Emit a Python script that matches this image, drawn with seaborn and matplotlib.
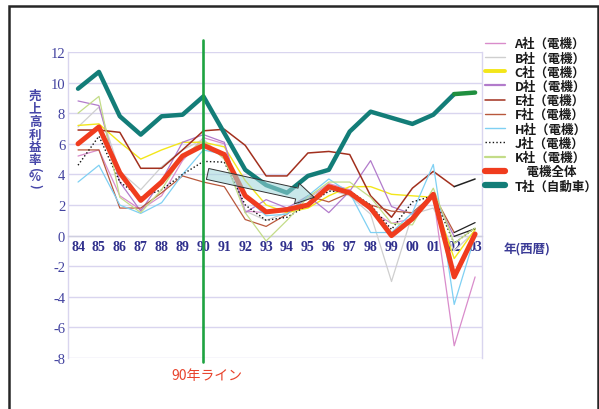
import numpy as np
import pandas as pd
import matplotlib
matplotlib.use("Agg")
import matplotlib.pyplot as plt
import seaborn as sns
from matplotlib.patches import Rectangle

# ---- data: operating profit margin (%) by fiscal year ----
years = ["84", "85", "86", "87", "88", "89", "90", "91", "92", "93",
         "94", "95", "96", "97", "98", "99", "00", "01", "02", "03"]

a_co = [5.2, 5.6, 2.6, 1.7, 2.6, 4.9, 6.4, 6.0, 1.6, 1.5,
        1.6, 2.4, 3.4, 3.0, 1.6, 0.8, 1.1, 2.6, -7.2, -2.7]
b_co = [7.1, 8.4, 4.2, 3.0, 4.5, 5.6, 6.3, 5.0, 1.6, 1.0,
        1.5, 2.6, 3.0, 2.6, 1.4, -3.0, 1.4, 1.8, -1.0, 0.3]
c_co = [7.2, 7.3, 6.1, 5.0, 5.6, 6.1, 6.1, 5.8, 3.6, 2.0,
        1.5, 1.8, 2.6, 3.2, 3.2, 2.7, 2.6, 2.5, -1.5, 0.4]
d_co = [8.8, 8.5, 3.5, 1.6, 3.6, 6.1, 6.6, 6.1, 1.5, 2.35,
        1.8, 2.6, 1.5, 2.9, 4.9, 1.9, 1.4, 2.6, -0.05, 0.45]
e_co = [6.9, 6.9, 6.75, 4.4, 4.4, 5.6, 6.85, 6.95, 5.9, 3.9,
        3.9, 5.4, 5.5, 5.3, 2.6, 1.2, 3.1, 4.2, 3.2, 3.7]
f_co = [5.6, 5.6, 1.8, 1.8, 2.8, 3.9, 3.5, 3.2, 1.05, 0.6,
        1.4, 2.6, 2.2, 2.8, 2.0, 1.6, 1.5, 2.7, 0.2, 0.85]
h_co = [3.5, 4.6, 2.0, 1.45, 2.15, 4.0, 5.6, 5.3, 2.5, 1.3,
        1.4, 2.6, 3.7, 2.8, 0.2, 0.2, 1.5, 4.65, -4.5, 0.0]
j_co = [4.6, 6.5, 3.5, 2.5, 3.0, 4.0, 4.85, 4.8, 2.0, 1.0,
        1.2, 2.0, 2.9, 2.9, 2.0, 0.4, 2.2, 2.6, -0.5, 0.5]
k_co = [8.0, 9.1, 2.5, 1.5, 3.0, 5.2, 6.2, 5.0, 1.5, -0.35,
        1.0, 2.5, 3.5, 3.5, 2.5, 0.8, 0.7, 3.1, -0.5, 0.5]
elec_total = [6.0, 7.1, 4.1, 2.3, 3.5, 5.2, 5.9, 5.3, 2.6, 1.55,
              1.7, 2.0, 3.2, 2.8, 1.8, 0.0, 1.1, 2.7, -2.7, 0.1]
t_auto = [9.6, 10.7, 7.8, 6.6, 7.8, 7.9, 9.1, 6.7, 4.3, 3.3,
          2.8, 3.9, 4.3, 6.8, 8.1, 7.7, 7.3, 7.9, 9.25, 9.35]

y_ticks = [-8, -6, -4, -2, 0, 2, 4, 6, 8, 10, 12]
marker_year = "90"

# label, values, colour, line width, dash, legend width, colour of last segment
series = [
    ("A社（電機）", a_co, "#d98ccb", 0.9, "-", 1.0, None),
    ("B社（電機）", b_co, "#cfcfcf", 0.9, "-", 1.0, None),
    ("C社（電機）", c_co, "#f3e61a", 1.0, "-", 2.8, None),
    ("D社（電機）", d_co, "#b27bcb", 0.9, "-", 1.6, "#222222"),
    ("E社（電機）", e_co, "#a2301e", 1.1, "-", 1.1, "#222222"),
    ("F社（電機）", f_co, "#b8583c", 0.9, "-", 1.0, "#222222"),
    ("H社（電機）", h_co, "#7fd0f3", 0.9, "-", 1.0, None),
    ("J社（電機）", j_co, "#111111", 1.0, (0, (1, 1.6)), 1.0, None),
    ("K社（電機）", k_co, "#c3dc88", 0.9, "-", 1.6, None),
    ("\u3000電機全体", elec_total, "#f03c1e", 3.6, "-", 4.5, None),
    ("T社（自動車）", t_auto, "#137d78", 3.2, "-", 4.5, "#1f8f3f"),
]

sns.set_style("white")
plt.rcParams["font.family"] = ["Noto Sans CJK JP", "DejaVu Sans"]
plt.rcParams["axes.unicode_minus"] = False

W, H = 599, 410
fig = plt.figure(figsize=(W / 100, H / 100), dpi=100)
ax = fig.add_axes([68 / W, 51 / H, 414 / W, 306 / H])

pos = np.arange(len(years))
for label, vals, color, lw, ls, _, tail in series:
    df = pd.DataFrame({"pos": pos, "value": vals})
    body = df if tail is None else df.iloc[:-1]
    sns.lineplot(data=body, x="pos", y="value", ax=ax, color=color, lw=lw,
                 linestyle=ls, label=label, sort=False, zorder=3)
    if tail is not None:
        sns.lineplot(data=df.iloc[-2:], x="pos", y="value", ax=ax, color=tail,
                     lw=lw, linestyle=ls, legend=False, sort=False, zorder=3)

# axes, grid and ticks
grid_c = "#d9d5ef"
ax.set_xlim(-0.48, 19.33)
ax.set_ylim(-8, 12)
ax.set_xlabel("")
ax.set_ylabel("")
ax.grid(axis="y", color=grid_c, lw=1.0, zorder=0)
ax.grid(axis="x", visible=False)
ax.spines["top"].set_visible(False)
for s in ("left", "right"):
    ax.spines[s].set_color(grid_c)
    ax.spines[s].set_linewidth(1.0)
ax.spines["bottom"].set_position(("data", 0))
ax.spines["bottom"].set_color("#cfcfe0")
ax.spines["bottom"].set_linewidth(1.0)

ax.set_yticks(y_ticks)
ax.set_yticklabels([str(v) for v in y_ticks], fontfamily="Liberation Serif",
                   fontsize=10.5, color="#4343a0")
ax.tick_params(axis="y", length=0, pad=2)

ax.set_xticks(pos)
ax.set_xticklabels(years, fontfamily="Liberation Serif", fontsize=10,
                   fontweight="bold", color="#2f2f8c")
ax.set_xticks(pos[:-1] + 0.5, minor=True)
ax.tick_params(axis="x", which="major", length=0, pad=3)
ax.tick_params(axis="x", which="minor", direction="in", length=5,
               color="#c8c8d8", width=0.8)

# trend arrow from 1990 toward the mid-90s trough
ax.annotate("", xy=(11.3, 2.5), xytext=(6.2, 4.03),
            arrowprops=dict(arrowstyle="simple,head_length=0.8,head_width=0.95,tail_width=0.5",
                            mutation_scale=16, fc=(0.62, 0.84, 0.85, 0.55),
                            ec="#333333", lw=0.7, shrinkA=0, shrinkB=0),
            zorder=5)

# 1990 reference line
x90 = years.index(marker_year)
ax.plot([x90, x90], [12.78, -8.26], color="#1ea341", lw=1.9,
        clip_on=False, zorder=6)
fig.text(207 / W, 1 - 376 / H, "90年ライン", color="#e8432c",
         fontsize=10, ha="center", va="center")

# legend
handles, labels = ax.get_legend_handles_labels()
leg = ax.legend(handles, labels, loc="upper left",
                bbox_to_anchor=(485 / W, 1 - 38 / H),
                bbox_transform=fig.transFigure, frameon=False,
                prop={"family": ["Noto Sans CJK JP", "DejaVu Sans"],
                      "size": 9, "weight": "bold"},
                handlelength=1.6, handletextpad=0.75, labelspacing=0.1,
                borderpad=0, borderaxespad=0)
for line, s in zip(leg.get_lines(), series):
    line.set_linewidth(s[5])
for txt in leg.get_texts():
    txt.set_color("#1a1a1a")

# vertical axis title, stacked characters
y_title = [("売", 96, 0), ("上", 109, 0), ("高", 122, 0), ("利", 135, 0),
           ("益", 148, 0), ("率", 161, 0), ("(", 170, -90), ("%", 178, 0),
           (")", 186, -90)]
for ch, yy, rot in y_title:
    fig.text(35 / W, 1 - yy / H, ch, color="#4646a8", fontsize=9,
             fontweight="bold", ha="center", va="center", rotation=rot,
             rotation_mode="anchor")

fig.text(527 / W, 1 - 250 / H, "年(西暦)", color="#3a3a96", fontsize=9,
         fontweight="bold", ha="center", va="center")

# outer frame
fig.add_artist(Rectangle((8.5 / W, -0.05), (598 - 8.5) / W, 1.05 - 7 / H,
                         transform=fig.transFigure, fill=False,
                         ec="#262626", lw=1.8))

fig.savefig("out.png", dpi=100)
